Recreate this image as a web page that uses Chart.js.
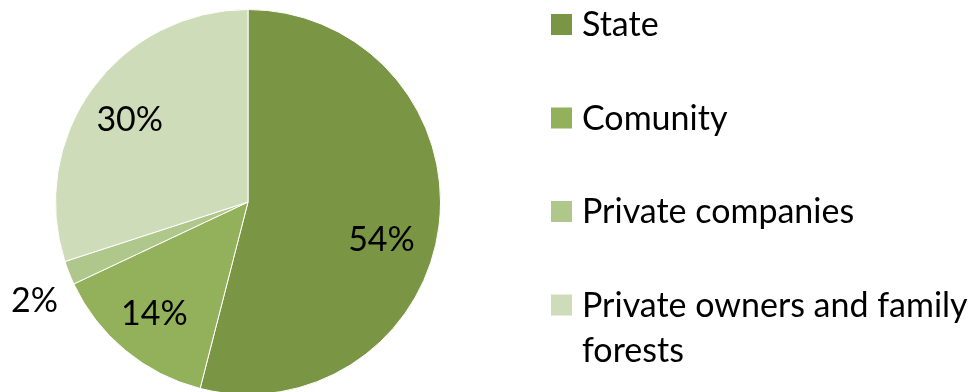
<!DOCTYPE html>
<html>
<head>
<meta charset="utf-8">
<script src="https://cdn.jsdelivr.net/npm/chart.js@4/dist/chart.umd.min.js"></script>
<style>
  html, body { margin: 0; padding: 0; background: #fff; overflow: hidden; }
  #wrap { width: 976px; height: 392px; overflow: hidden; }
</style>
</head>
<body>
<div id="wrap"><canvas id="ownership" width="976" height="400"></canvas></div>
<script>
// Forest ownership shares (%)
const categories = ['State', 'Comunity', 'Private companies', 'Private owners and family forests'];
const shares = [54, 14, 2, 30];
const shareLabels = ['54%', '14%', '2%', '30%'];
const sliceColors = ['#7A9544', '#93B05A', '#AFC78A', '#CFDCB9'];

const FONT = 'Lato, "Open Sans", sans-serif';
const FONT_SIZE = 34;

// where each percentage sits: fraction of the radius, and a nudge in degrees
const labelRadius = [0.72, 0.755, 1.22, 0.75];
const labelNudge = [8.4, 0.5, -3, -1];

const sliceLabels = {
  id: 'sliceLabels',
  afterDatasetsDraw(chart){
    const ctx = chart.ctx;
    const meta = chart.getDatasetMeta(0);
    ctx.save();
    ctx.font = FONT_SIZE + 'px ' + FONT;
    ctx.fillStyle = '#000';
    ctx.textAlign = 'center';
    ctx.textBaseline = 'middle';
    meta.data.forEach((arc, i) => {
      const p = arc.getProps(['x', 'y', 'startAngle', 'endAngle', 'outerRadius'], true);
      const mid = (p.startAngle + p.endAngle) / 2 + labelNudge[i] * Math.PI / 180;
      const r = p.outerRadius * labelRadius[i];
      ctx.fillText(shareLabels[i], p.x + Math.cos(mid) * r, p.y + Math.sin(mid) * r + 1);
    });
    ctx.restore();
  }
};

// legend on the right, long names wrap onto a second line
const sideLegend = {
  id: 'sideLegend',
  afterDraw(chart){
    const ctx = chart.ctx;
    const boxX = 551, textX = 582, box = 21;
    const firstRow = 24.5, rowGap = 93.5, lineGap = 45;
    const maxWidth = 976 - textX;
    ctx.save();
    ctx.font = FONT_SIZE + 'px ' + FONT;
    ctx.textBaseline = 'middle';
    ctx.textAlign = 'left';
    chart.data.labels.forEach((name, i) => {
      const cy = firstRow + i * rowGap;
      ctx.fillStyle = chart.data.datasets[0].backgroundColor[i];
      ctx.fillRect(boxX, cy - box / 2, box, box);
      ctx.fillStyle = '#000';
      const words = name.split(' ');
      const lines = [];
      let line = '';
      words.forEach(w => {
        const test = line ? line + ' ' + w : w;
        if (line && ctx.measureText(test).width > maxWidth) {
          lines.push(line);
          line = w;
        } else {
          line = test;
        }
      });
      lines.push(line);
      lines.forEach((l, k) => ctx.fillText(l, textX, cy + 1 + k * lineGap));
    });
    ctx.restore();
  }
};

new Chart(document.getElementById('ownership'), {
  type: 'pie',
  data: {
    labels: categories,
    datasets: [{
      data: shares,
      backgroundColor: sliceColors,
      borderColor: '#ffffff',
      borderWidth: 1
    }]
  },
  options: {
    responsive: false,
    devicePixelRatio: 1,
    animation: false,
    layout: { padding: { left: 55, right: 535, top: 9, bottom: 5 } },
    plugins: {
      legend: { display: false },
      tooltip: { enabled: false }
    }
  },
  plugins: [sliceLabels, sideLegend]
});
</script>
</body>
</html>
